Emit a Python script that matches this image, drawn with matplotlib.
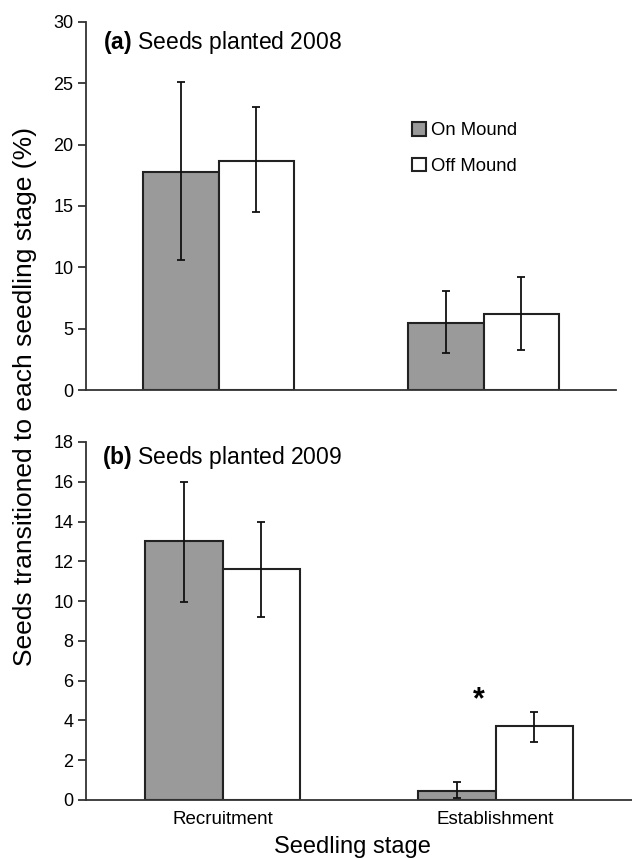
import matplotlib as mpl
mpl.use("Agg")
import matplotlib.pyplot as plt
import numpy as np

plt.rcParams['font.family'] = ['Liberation Sans', 'DejaVu Sans']
plt.rcParams['mathtext.fontset'] = 'custom'
plt.rcParams['mathtext.rm'] = 'Liberation Sans'
plt.rcParams['mathtext.bf'] = 'Liberation Sans:bold'

stages = ["Recruitment", "Establishment"]
groups = ["On Mound", "Off Mound"]

# 2008 (panel a): means and error bar ends
on_2008 = [17.8, 5.5]
on_2008_lo = [10.6, 3.0]
on_2008_hi = [25.1, 8.05]
off_2008 = [18.7, 6.2]
off_2008_lo = [14.5, 3.25]
off_2008_hi = [23.05, 9.25]

# 2009 (panel b)
on_2009 = [13.0, 0.47]
on_2009_lo = [9.95, 0.08]
on_2009_hi = [16.0, 0.9]
off_2009 = [11.6, 3.7]
off_2009_lo = [9.2, 2.93]
off_2009_hi = [13.97, 4.44]

yticks_a = [0, 5, 10, 15, 20, 25, 30]
yticks_b = [0, 2, 4, 6, 8, 10, 12, 14, 16, 18]

W, H = 632, 858
fig = plt.figure(figsize=(W / 100, H / 100), dpi=100)
ax1 = fig.add_axes([86 / W, 1 - 390 / H, 530 / W, 368 / H])
ax2 = fig.add_axes([86 / W, 1 - 800 / H, 546 / W, 358 / H])

x = np.arange(len(stages))
w = 0.285
edge = "#222222"


def panel(ax, on, on_lo, on_hi, off, off_lo, off_hi, ymax, yticks):
    on = np.array(on); off = np.array(off)
    err_on = [on - np.array(on_lo), np.array(on_hi) - on]
    err_off = [off - np.array(off_lo), np.array(off_hi) - off]
    ax.bar(x - w / 2, on, w, color="#9a9a9a", edgecolor=edge, linewidth=1.5,
           label=groups[0], zorder=2)
    ax.bar(x + w / 2, off, w, color="white", edgecolor=edge, linewidth=1.5,
           label=groups[1], zorder=2)
    ax.errorbar(x - w / 2, on, yerr=err_on, fmt="none", ecolor="#111111",
                elinewidth=1.3, capsize=3, capthick=1.3, zorder=3)
    ax.errorbar(x + w / 2, off, yerr=err_off, fmt="none", ecolor="#111111",
                elinewidth=1.3, capsize=3, capthick=1.3, zorder=3)
    ax.set_xlim(-0.5, 1.5)
    ax.set_ylim(0, ymax)
    ax.set_yticks(yticks)
    for s in ["top", "right"]:
        ax.spines[s].set_visible(False)
    for s in ["left", "bottom"]:
        ax.spines[s].set_linewidth(1.3)
        ax.spines[s].set_color("#333333")
    ax.tick_params(axis="y", direction="out", length=6, width=1.3,
                   color="#333333", labelsize=13, pad=3)
    ax.tick_params(axis="x", length=0, labelsize=13.5, pad=8)


panel(ax1, on_2008, on_2008_lo, on_2008_hi, off_2008, off_2008_lo, off_2008_hi,
      30, yticks_a)
panel(ax2, on_2009, on_2009_lo, on_2009_hi, off_2009, off_2009_lo, off_2009_hi,
      18, yticks_b)

ax1.set_xticks([])
ax2.set_xticks(x)
ax2.set_xticklabels(stages)

ax1.legend(loc="upper left", bbox_to_anchor=(0.615, 0.728), frameon=False,
           borderpad=0, borderaxespad=0, handlelength=0.75, handleheight=0.75,
           handletextpad=0.3, labelspacing=1.0, fontsize=13.3)

ax1.text(0.033, 0.945, r"$\bf{(a)}$ Seeds planted 2008", transform=ax1.transAxes,
         fontsize=16.5, va="center", ha="left")
ax2.text(0.030, 0.958, r"$\bf{(b)}$ Seeds planted 2009", transform=ax2.transAxes,
         fontsize=16.5, va="center", ha="left")

ax2.text(0.94, 5.0, "*", fontsize=22, fontweight="bold", ha="center", va="center")

fig.text(25 / W, 1 - 397 / H, "Seeds transitioned to each seedling stage (%)",
         rotation=90, fontsize=19, ha="center", va="center")
fig.text(352 / W, 1 - 847 / H, "Seedling stage", fontsize=17, ha="center",
         va="center")

plt.savefig("out.png", dpi=100)
